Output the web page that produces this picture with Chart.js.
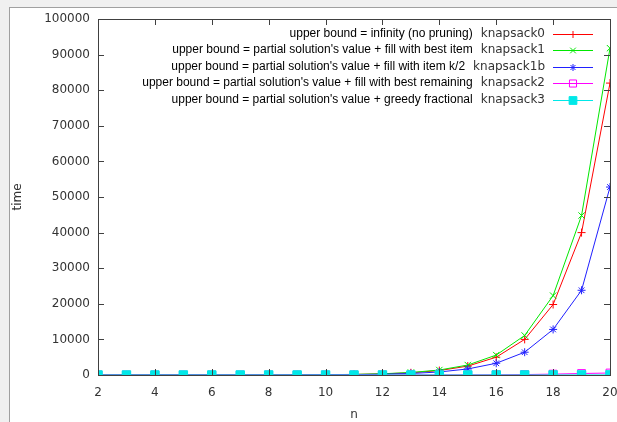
<!DOCTYPE html>
<html><head><meta charset="utf-8">
<script src="https://cdn.jsdelivr.net/npm/chart.js@4"></script>
<style>
html,body{margin:0;padding:0;background:#f0f0f0;overflow:hidden;}
#panel{position:absolute;left:9px;top:7px;width:608px;height:415px;background:#fff;border-left:1px solid #a0a0a0;border-top:1px solid #a0a0a0;box-sizing:border-box;}
#wrap{position:absolute;left:0;top:0;width:617px;height:422px;}
</style></head><body>
<div id="panel"></div>
<div id="wrap"><canvas id="c" width="617" height="422"></canvas></div>
<script>
const nValues   = [2,3,4,5,6,7,8,9,10,11,12,13,14,15,16,17,18,19,20];
const knapsack0  = [0.3,0.6,1.2,2.5,5,10,20,39,78,155,310,620,1250,2500,5000,10000,19800,40000,82000];
const knapsack1  = [0.4,0.7,1.4,2.8,5.5,11,22,44,88,175,350,700,1400,2800,5600,11100,22300,44800,91800];
const knapsack1b = [0.3,0.5,0.9,1.7,3.3,6.5,13,26,52,105,210,420,850,1700,3300,6400,12800,23800,52800];
const knapsack2  = [0.1,0.1,0.2,0.3,0.5,0.8,1.2,2,3,5,8,15,25,45,70,120,250,420,560];
const knapsack3  = [0.1,0.1,0.1,0.2,0.2,0.3,0.4,0.5,0.7,1,1.5,2,3,4,6,9,13,19,28];
const seriesNames = ['knapsack0','knapsack1','knapsack1b','knapsack2','knapsack3'];
const descriptions = [
  'upper bound = infinity (no pruning)',
  'upper bound = partial solution\'s value + fill with best item',
  'upper bound = partial solution\'s value + fill with item k/2',
  'upper bound = partial solution\'s value + fill with best remaining',
  'upper bound = partial solution\'s value + greedy fractional'
];
const xTicks = [2,4,6,8,10,12,14,16,18,20];
const yTicks = [0,10000,20000,30000,40000,50000,60000,70000,80000,90000,100000];

const seriesData = [knapsack0, knapsack1, knapsack1b, knapsack2, knapsack3];
const colors = ['#ff0000','#00e800','#2020ff','#ff00ff','#00e8e8'];
const styles = [
  {pointStyle:'cross', radius:4, fill:'rgba(0,0,0,0)'},
  {pointStyle:'crossRot', radius:4.5, fill:'rgba(0,0,0,0)'},
  {pointStyle:'star', radius:4, fill:'rgba(0,0,0,0)'},
  {pointStyle:'rect', radius:5.5, fill:'rgba(0,0,0,0)'},
  {pointStyle:'rect', radius:6, fill:'#00e8e8'}
];

const datasets = seriesData.map((arr,i)=>({
  label: seriesNames[i],
  data: arr.map((v,j)=>({x:nValues[j], y:v})),
  borderColor: colors[i],
  backgroundColor: styles[i].fill,
  borderWidth: 1,
  pointStyle: styles[i].pointStyle,
  pointRadius: styles[i].radius,
  pointBorderWidth: 1,
  pointBorderColor: colors[i],
  pointBackgroundColor: styles[i].fill,
  tension: 0,
  order: 5 - i
}));

const framePlugin = {
  id:'frame',
  afterDatasetsDraw(chart){
    const ctx = chart.ctx, a = chart.chartArea;
    const xs = chart.scales.x, ys = chart.scales.y;
    ctx.save();
    ctx.strokeStyle = '#404040';
    ctx.lineWidth = 1;
    ctx.beginPath();
    xTicks.forEach(v=>{
      const p = Math.round(xs.getPixelForValue(v)) + 0.5;
      ctx.moveTo(p, a.bottom); ctx.lineTo(p, a.bottom - 6);
      ctx.moveTo(p, a.top); ctx.lineTo(p, a.top + 6);
    });
    yTicks.forEach(v=>{
      const p = Math.round(ys.getPixelForValue(v)) + 0.5;
      ctx.moveTo(a.left, p); ctx.lineTo(a.left + 6, p);
      ctx.moveTo(a.right, p); ctx.lineTo(a.right - 6, p);
    });
    ctx.stroke();
    ctx.strokeRect(Math.round(a.left)+0.5, Math.round(a.top)+0.5, Math.round(a.right-a.left), Math.round(a.bottom-a.top));
    ctx.restore();
  },
  afterDraw(chart){
    const ctx = chart.ctx;
    ctx.save();
    const nameRight = 545, lineL = 553, lineR = 593, mk = 573;
    seriesNames.forEach((nm,i)=>{
      const y = 33.5 + i*16.5;
      ctx.font = '12px "DejaVu Sans"';
      ctx.fillStyle = '#333';
      ctx.textAlign = 'right';
      ctx.textBaseline = 'middle';
      ctx.fillText(nm, nameRight, y);
      const w = ctx.measureText(nm).width;
      ctx.font = '12px "Liberation Sans"';
      ctx.fillStyle = '#000';
      ctx.fillText(descriptions[i], nameRight - w - 8, y);
      ctx.strokeStyle = colors[i];
      ctx.lineWidth = 1;
      ctx.beginPath();
      ctx.moveTo(lineL, Math.round(y)+0.5); ctx.lineTo(lineR, Math.round(y)+0.5);
      ctx.stroke();
      ctx.fillStyle = styles[i].fill;
      Chart.helpers.drawPoint(ctx, {pointStyle:styles[i].pointStyle, radius:styles[i].radius - 0.5, rotation:0, borderWidth:1}, mk, Math.round(y)+0.5);
    });
    ctx.restore();
  }
};

new Chart(document.getElementById('c'), {
  type:'line',
  data:{datasets},
  plugins:[framePlugin],
  options:{
    responsive:false,
    animation:false,
    devicePixelRatio:1,
    layout:{padding:{left:0, top:19, right:7, bottom:0}},
    plugins:{legend:{display:false}, tooltip:{enabled:false}},
    scales:{
      x:{
        type:'linear', min:2, max:20,
        afterBuildTicks(s){ s.ticks = xTicks.map(v=>({value:v})); },
        afterFit(s){ s.height = 47; s.paddingLeft = 0; s.paddingRight = 0; },
        grid:{display:false, drawTicks:false},
        border:{display:false},
        ticks:{font:{family:'DejaVu Sans', size:12}, color:'#333', padding:11, maxRotation:0, autoSkip:false},
        title:{display:true, text:'n', font:{family:'DejaVu Sans', size:12}, color:'#333', padding:{top:0,bottom:0}}
      },
      y:{
        type:'linear', min:0, max:100000,
        afterBuildTicks(s){ s.ticks = yTicks.map(v=>({value:v})); },
        afterFit(s){ s.width = 98; s.paddingTop = 0; s.paddingBottom = 0; },
        grid:{display:false, drawTicks:false},
        border:{display:false},
        ticks:{font:{family:'DejaVu Sans', size:12}, color:'#333', padding:8, autoSkip:false, callback:v=>String(v)},
        title:{display:true, text:'time', font:{family:'DejaVu Sans', size:12}, color:'#333', padding:{top:11,bottom:0}}
      }
    }
  }
});
</script>
</body></html>
